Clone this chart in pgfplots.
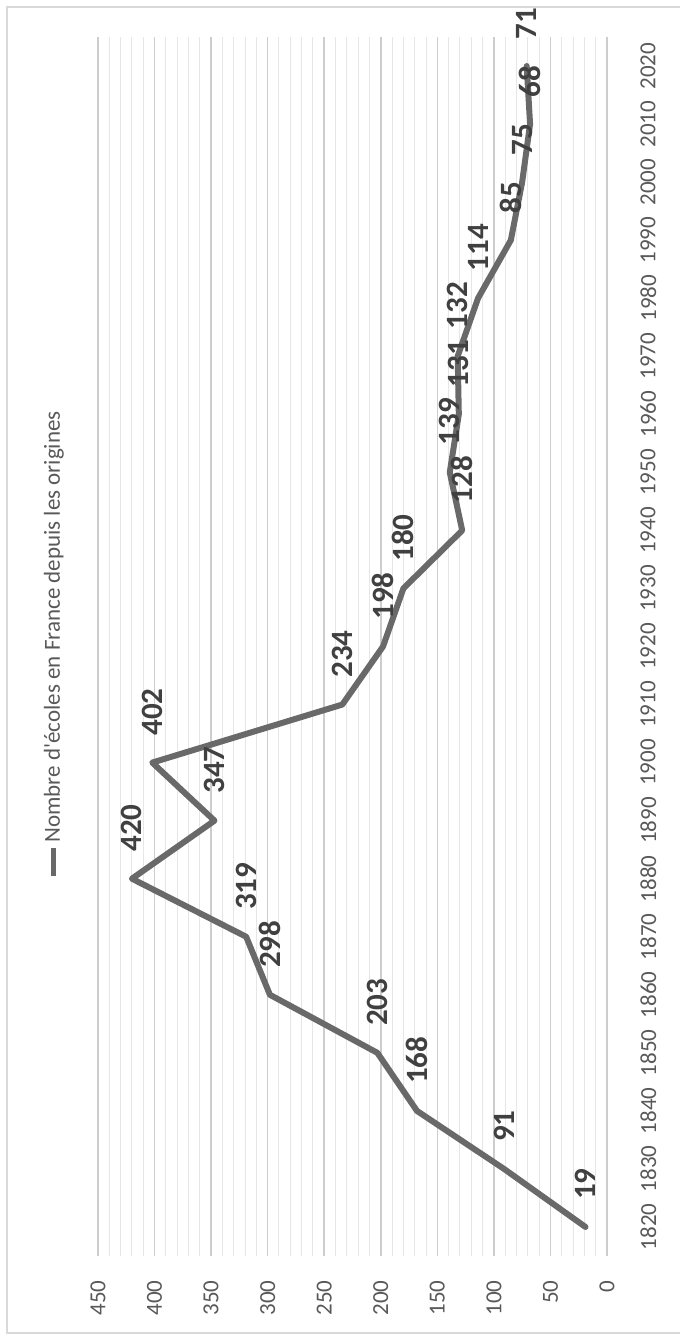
\documentclass[border=0pt]{standalone}
\usepackage{fontspec}
\setmainfont{Carlito}
\newfontfamily\legfont{Carlito}
\usepackage{pgfplots}
\usepackage{pgfplotstable}
\pgfplotsset{compat=1.18}
\definecolor{linegray}{RGB}{105,105,105}
\definecolor{majgrid}{RGB}{205,205,205}
\definecolor{mingrid}{RGB}{230,230,230}
\definecolor{ticktext}{RGB}{89,89,89}
\definecolor{labeltext}{RGB}{64,64,64}
\definecolor{framecol}{RGB}{217,217,217}

\pgfplotstableread{
year value
1820 19
1830 91
1840 168
1850 203
1860 298
1870 319
1880 420
1890 347
1900 402
1910 234
1920 198
1930 180
1940 128
1950 139
1960 131
1970 132
1980 114
1990 85
2000 75
2010 68
2020 71
}\schooldata

\begin{document}
\begin{tikzpicture}
\path[use as bounding box] (-49pt,-42pt) rectangle (291pt,628pt);
\draw[framecol, line width=0.75pt] (-45.5pt,-38.5pt) rectangle (296pt,624.5pt);
\begin{axis}[
  at={(0pt,0pt)}, anchor=south west,
  width=254.5pt, height=609.5pt, scale only axis,
  x dir=reverse, xmin=0, xmax=450, ymin=1815, ymax=2025,
  xtick={0,50,...,450}, ytick={1820,1830,...,2020},
  minor x tick num=4,
  xmajorgrids, xminorgrids,
  major x grid style={majgrid, line width=0.75pt},
  minor x grid style={mingrid, line width=0.5pt},
  axis line style={draw=none},
  major tick length=0pt, minor tick length=0pt,
  yticklabel pos=right,
  /pgf/number format/1000 sep={},
  /pgf/number format/assume math mode=true,
  tick label style={font=\fontsize{11.5}{13}\selectfont, text=ticktext},
  xticklabel style={rotate=90, anchor=east, inner xsep=12pt},
  yticklabel style={rotate=90, anchor=north, inner ysep=16.5pt},
  clip=false,
]
\addplot[linegray, line width=3pt, line cap=round, line join=round,
  nodes near coords, point meta=x,
  every node near coord/.append style={rotate=90, anchor=west, inner xsep=12pt, font=\fontsize{15.5}{17}\selectfont\bfseries, text=labeltext}]
  table[x=value, y=year] {\schooldata};
\end{axis}
\draw[linegray, line width=2.5pt] (-22pt,190pt) -- (-22pt,204pt);
\node[rotate=90, anchor=base west, inner sep=0pt, font=\legfont\fontsize{11.5}{13}\selectfont, text=ticktext] at (-19pt,206.5pt) {Nombre d'écoles en France depuis les origines};
\end{tikzpicture}
\end{document}
